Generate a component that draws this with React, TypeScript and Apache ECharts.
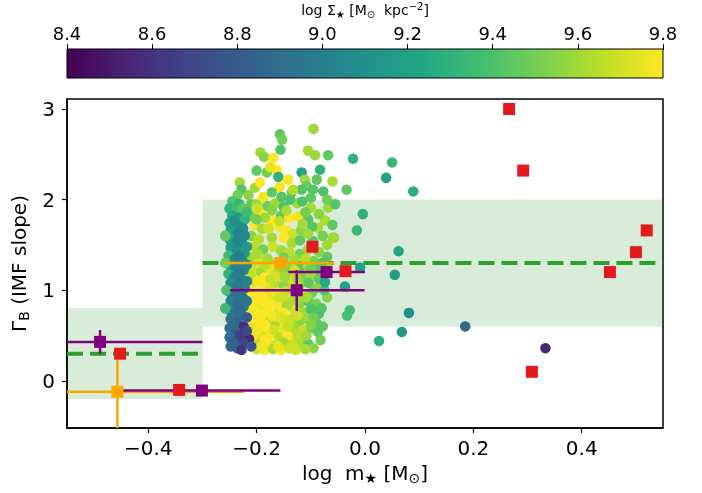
import React, { useEffect, useRef } from "react";
import * as echarts from "echarts";

// ---- Data ----
const cbTicks = [8.4, 8.6, 8.8, 9.0, 9.2, 9.4, 9.6, 9.8];
const xTicks = [-0.4, -0.2, 0.0, 0.2, 0.4];
const yTicks = [0, 1, 2, 3];

// cloud points: [log m, Gamma_B, log Sigma]
const cloudRight: number[][] = [
  [-0.135, 1.28, 9.6], [-0.12, 1.25, 9.45], [-0.105, 1.27, 9.62], [-0.09, 1.22, 9.4],
  [-0.132, 1.18, 9.66], [-0.116, 1.15, 9.52], [-0.1, 1.17, 9.6], [-0.085, 1.12, 9.45],
  [-0.135, 1.08, 9.7], [-0.12, 1.06, 9.6], [-0.104, 1.08, 9.45], [-0.09, 1.02, 9.55],
  [-0.13, 0.98, 9.62], [-0.114, 0.95, 9.7], [-0.098, 0.97, 9.5],
  [-0.135, 0.88, 9.65], [-0.12, 0.86, 9.55], [-0.105, 0.88, 9.42], [-0.09, 0.85, 9.5],
  [-0.13, 0.78, 9.7], [-0.115, 0.76, 9.6], [-0.1, 0.79, 9.45], [-0.085, 0.74, 9.4],
  [-0.135, 0.68, 9.66], [-0.12, 0.66, 9.55], [-0.105, 0.68, 9.6], [-0.09, 0.64, 9.45],
  [-0.13, 0.58, 9.6], [-0.114, 0.56, 9.68], [-0.098, 0.58, 9.5], [-0.078, 0.6, 9.45], [-0.087, 0.54, 9.45],
  [-0.135, 0.48, 9.7], [-0.12, 0.46, 9.62], [-0.105, 0.41, 9.45], [-0.12, 0.38, 9.62], [-0.135, 0.4, 9.7],
  [-0.098, 0.79, 9.4], [-0.07, 0.92, 9.55], [-0.075, 1.0, 9.4],
  [-0.125, 1.0, 9.66], [-0.108, 0.92, 9.62], [-0.125, 0.72, 9.7], [-0.095, 0.7, 9.5], [-0.125, 0.52, 9.65],
  [-0.108, 0.5, 9.6], [-0.1, 0.62, 9.55], [-0.08, 0.8, 9.42], [-0.082, 0.45, 9.5], [-0.095, 0.36, 9.55],
  [-0.11, 0.35, 9.62], [-0.128, 0.34, 9.7], [-0.125, 0.9, 9.6],
];
const cloudYellow: number[][] = [
  [-0.212, 1.08, 9.62], [-0.198, 1.1, 9.7], [-0.182, 1.06, 9.78], [-0.166, 1.08, 9.65], [-0.15, 1.05, 9.55],
  [-0.208, 1.0, 9.78], [-0.192, 0.98, 9.8], [-0.176, 1.0, 9.72], [-0.16, 0.97, 9.8], [-0.146, 0.99, 9.66],
  [-0.212, 0.92, 9.8], [-0.196, 0.9, 9.78], [-0.18, 0.91, 9.8], [-0.165, 0.89, 9.76], [-0.15, 0.9, 9.7],
  [-0.206, 0.83, 9.8], [-0.19, 0.82, 9.74], [-0.174, 0.84, 9.8], [-0.158, 0.81, 9.78], [-0.144, 0.83, 9.62],
  [-0.212, 0.75, 9.78], [-0.196, 0.74, 9.8], [-0.18, 0.76, 9.8], [-0.164, 0.73, 9.72], [-0.15, 0.75, 9.8],
  [-0.206, 0.67, 9.8], [-0.19, 0.66, 9.78], [-0.174, 0.68, 9.65], [-0.158, 0.65, 9.8], [-0.144, 0.67, 9.7],
  [-0.21, 0.58, 9.72], [-0.195, 0.59, 9.8], [-0.18, 0.57, 9.8], [-0.165, 0.6, 9.62], [-0.15, 0.58, 9.76],
  [-0.205, 0.5, 9.8], [-0.19, 0.49, 9.7], [-0.174, 0.51, 9.78], [-0.158, 0.48, 9.66], [-0.143, 0.5, 9.8],
  [-0.21, 0.42, 9.76], [-0.195, 0.41, 9.66], [-0.18, 0.43, 9.8], [-0.165, 0.4, 9.72], [-0.15, 0.42, 9.6],
  [-0.2, 0.35, 9.7], [-0.185, 0.34, 9.8], [-0.17, 0.35, 9.62], [-0.155, 0.34, 9.78], [-0.14, 0.36, 9.7],
  [-0.203, 0.95, 9.8], [-0.188, 0.87, 9.8], [-0.17, 0.95, 9.75], [-0.2, 0.7, 9.8], [-0.185, 0.62, 9.8],
  [-0.172, 0.72, 9.78], [-0.2, 0.54, 9.76], [-0.185, 0.45, 9.8], [-0.168, 0.56, 9.7], [-0.158, 0.92, 9.7],
  [-0.155, 0.7, 9.72], [-0.142, 0.6, 9.68], [-0.16, 0.38, 9.75], [-0.19, 0.38, 9.78],
];
const cloudMiddle: number[][] = [
  [-0.21, 1.95, 9.45], [-0.194, 1.87, 9.8], [-0.2, 1.95, 9.6], [-0.18, 1.93, 9.5], [-0.165, 1.96, 9.6],
  [-0.15, 1.92, 9.42], [-0.125, 1.96, 9.6], [-0.116, 1.98, 9.4], [-0.1, 1.91, 9.62], [-0.068, 1.91, 9.6], [-0.055, 1.95, 9.42],
  [-0.21, 1.82, 9.5], [-0.17, 1.76, 9.8], [-0.185, 1.8, 9.6], [-0.155, 1.82, 9.45], [-0.14, 1.8, 9.8],
  [-0.124, 1.81, 9.78], [-0.105, 1.78, 9.42], [-0.074, 1.77, 9.62], [-0.087, 1.69, 9.62], [-0.098, 1.7, 9.42],
  [-0.203, 1.72, 9.8], [-0.19, 1.68, 9.62], [-0.157, 1.7, 9.78], [-0.145, 1.66, 9.8], [-0.133, 1.62, 9.7], [-0.118, 1.66, 9.55],
  [-0.21, 1.6, 9.55], [-0.196, 1.56, 9.65], [-0.172, 1.58, 9.6], [-0.15, 1.58, 9.8], [-0.135, 1.52, 9.62],
  [-0.12, 1.55, 9.45], [-0.096, 1.54, 9.42], [-0.059, 1.58, 9.62], [-0.078, 1.6, 9.5],
  [-0.205, 1.48, 9.65], [-0.188, 1.45, 9.5], [-0.17, 1.48, 9.7], [-0.155, 1.44, 9.6], [-0.14, 1.42, 9.65],
  [-0.12, 1.4, 9.5], [-0.105, 1.45, 9.6], [-0.07, 1.37, 9.45], [-0.085, 1.42, 9.55],
  [-0.21, 1.36, 9.6], [-0.196, 1.32, 9.72], [-0.18, 1.35, 9.6], [-0.165, 1.3, 9.65], [-0.15, 1.36, 9.5],
  [-0.07, 1.26, 9.6], [-0.095, 1.32, 9.5],
  [-0.208, 1.24, 9.7], [-0.192, 1.2, 9.6], [-0.176, 1.24, 9.75], [-0.16, 1.2, 9.6], [-0.146, 1.24, 9.55],
  [-0.21, 1.15, 9.66], [-0.186, 1.14, 9.8], [-0.165, 1.15, 9.72], [-0.148, 1.14, 9.6],
  [-0.2, 1.9, 9.7], [-0.172, 1.88, 9.55], [-0.145, 1.88, 9.62], [-0.11, 1.86, 9.5], [-0.085, 1.84, 9.55],
  [-0.2, 1.78, 9.5], [-0.158, 1.76, 9.66], [-0.115, 1.73, 9.6], [-0.06, 1.72, 9.45], [-0.178, 1.68, 9.7],
  [-0.105, 1.62, 9.6], [-0.07, 1.5, 9.6], [-0.198, 1.4, 9.62], [-0.13, 1.34, 9.6], [-0.11, 1.35, 9.65],
  [-0.185, 1.28, 9.66], [-0.13, 1.22, 9.7], [-0.1, 1.24, 9.5], [-0.08, 1.3, 9.42], [-0.198, 1.1, 9.78],
  [-0.175, 1.12, 9.7], [-0.125, 1.12, 9.6],
];
const cloudUpper: number[][] = [
  [-0.095, 2.78, 9.6],
  [-0.157, 2.72, 9.45], [-0.153, 2.66, 9.5], [-0.156, 2.55, 9.42],
  [-0.105, 2.54, 9.6], [-0.092, 2.49, 9.58], [-0.068, 2.49, 9.45],
  [-0.193, 2.52, 9.6], [-0.186, 2.47, 9.55], [-0.169, 2.46, 9.8],
  [-0.022, 2.45, 9.3],
  [-0.2, 2.32, 9.45], [-0.181, 2.3, 9.5], [-0.163, 2.33, 9.8], [-0.175, 2.36, 9.75],
  [-0.16, 2.25, 9.3], [-0.142, 2.22, 9.78], [-0.117, 2.3, 9.22], [-0.083, 2.33, 9.3],
  [-0.111, 2.22, 9.6], [-0.108, 2.15, 9.48], [-0.089, 2.22, 9.45], [-0.06, 2.2, 9.62],
  [-0.231, 2.19, 9.6], [-0.228, 2.11, 9.42], [-0.203, 2.13, 9.6], [-0.194, 2.19, 9.8],
  [-0.157, 2.14, 9.78], [-0.188, 2.03, 9.78], [-0.172, 2.08, 9.45], [-0.135, 2.08, 9.45],
  [-0.154, 2.03, 9.42], [-0.117, 2.11, 9.42], [-0.077, 2.09, 9.4], [-0.034, 2.11, 9.45],
  [-0.138, 2.0, 9.4], [-0.133, 2.11, 9.65], [-0.096, 2.11, 9.42], [-0.235, 2.05, 9.5],
  [-0.215, 2.05, 9.55], [-0.1, 2.02, 9.45], [-0.07, 2.0, 9.5],
];
const cloudColumn: number[][] = [
  [-0.245, 1.98, 9.4], [-0.232, 1.95, 9.32], [-0.25, 1.9, 9.3], [-0.238, 1.88, 9.38], [-0.225, 1.9, 9.45],
  [-0.245, 1.82, 9.25], [-0.232, 1.8, 9.18], [-0.222, 1.78, 9.3], [-0.25, 1.74, 9.22], [-0.236, 1.72, 9.1],
  [-0.225, 1.68, 9.08], [-0.248, 1.66, 9.18], [-0.235, 1.62, 9.02],
  [-0.222, 1.6, 9.04], [-0.25, 1.56, 9.25], [-0.238, 1.54, 9.05], [-0.226, 1.5, 9.02], [-0.248, 1.47, 9.16],
  [-0.236, 1.44, 9.1], [-0.222, 1.41, 9.18], [-0.252, 1.38, 9.35], [-0.24, 1.35, 9.05], [-0.226, 1.32, 9.1],
  [-0.25, 1.28, 9.15], [-0.238, 1.25, 9.02], [-0.224, 1.22, 9.04], [-0.252, 1.18, 9.3], [-0.24, 1.15, 9.0],
  [-0.228, 1.12, 8.96], [-0.248, 1.08, 9.1], [-0.236, 1.05, 8.98], [-0.222, 1.02, 9.0],
  [-0.25, 0.98, 9.05], [-0.238, 0.95, 8.95], [-0.226, 0.92, 8.93], [-0.248, 0.88, 9.0], [-0.236, 0.85, 8.9],
  [-0.224, 0.82, 8.96], [-0.25, 0.78, 9.02], [-0.238, 0.75, 8.9], [-0.226, 0.72, 8.92],
  [-0.248, 0.68, 8.94], [-0.236, 0.65, 8.84], [-0.224, 0.6, 8.6], [-0.25, 0.58, 8.9], [-0.238, 0.55, 8.77],
  [-0.214, 0.46, 8.55], [-0.25, 0.48, 8.92], [-0.236, 0.45, 8.8], [-0.224, 0.42, 8.7], [-0.248, 0.38, 8.87],
  [-0.236, 0.36, 8.82], [-0.228, 0.34, 8.6], [-0.21, 0.38, 8.75],
  [-0.218, 1.86, 9.35], [-0.242, 1.76, 9.1], [-0.228, 1.56, 9.04], [-0.218, 1.48, 9.15], [-0.232, 1.38, 9.0],
  [-0.218, 1.28, 9.05], [-0.232, 1.18, 8.98], [-0.218, 1.1, 9.02], [-0.232, 0.98, 8.94], [-0.218, 0.88, 8.94],
  [-0.232, 0.8, 8.9], [-0.218, 0.7, 8.82], [-0.23, 0.5, 8.65], [-0.218, 0.55, 8.7], [-0.242, 0.62, 8.88],
  [-0.245, 0.42, 8.84],
  [-0.258, 1.6, 9.45], [-0.258, 1.3, 9.5], [-0.256, 1.0, 9.4], [-0.258, 0.8, 9.35],
];
const cloudOutliers: number[][] = [
  [0.05, 2.41, 9.33], [0.039, 2.24, 9.2], [0.089, 2.09, 9.28], [-0.004, 1.84, 9.28],
  [0.062, 1.43, 9.22], [0.055, 1.17, 9.18], [0.081, 0.75, 9.1], [0.068, 0.54, 9.15],
  [0.026, 0.44, 9.28], [0.185, 0.6, 8.86], [0.333, 0.36, 8.55], [-0.015, 1.66, 9.33],
  [-0.057, 1.58, 9.6], [-0.037, 1.04, 9.2], [-0.028, 0.78, 9.38], [-0.033, 0.72, 9.38],
  [-0.009, 1.25, 9.2], [-0.074, 1.09, 9.25],
];

// red squares: [log m, Gamma_B]
const redPoints: number[][] = [
  [0.266, 3.0], [0.292, 2.32], [0.52, 1.66], [0.5, 1.42], [0.452, 1.2], [0.308, 0.1],
  [-0.097, 1.48], [-0.036, 1.21], [-0.452, 0.3], [-0.343, -0.1],
];
// with error bars: [x, y, xlo, xhi, ylo, yhi]
const orangePoints: number[][] = [
  [-0.156, 1.3, -0.255, -0.057, 1.3, 1.3],
  [-0.457, -0.12, -0.62, -0.223, -0.7, 0.3],
];
const purplePoints: number[][] = [
  [-0.489, 0.43, -0.62, -0.3, 0.3, 0.56],
  [-0.301, -0.107, -0.446, -0.156, -0.107, -0.107],
  [-0.126, 1.0, -0.249, -0.001, 0.77, 1.22],
  [-0.071, 1.2, -0.1415, 0.0, 1.2, 1.2],
];
// IMF slope regimes
const bandLow = { x: [-0.55, -0.3], y: [-0.2, 0.8], mean: 0.3 };
const bandHigh = { x: [-0.3, 0.55], y: [0.6, 2.0], mean: 1.3 };

const viridis = ["#440154", "#482475", "#414487", "#355f8d", "#2a788e", "#21918c", "#22a884", "#44bf70", "#7ad151", "#bddf26", "#fde725"];

const fmt = (v: number) => {
  const s = Math.abs(v).toFixed(1);
  return v < -1e-9 ? "\u2212" + s : s;
};

const errorRender = (color: string) => (params: any, api: any) => {
  const x = api.value(0), y = api.value(1);
  const pl = api.coord([api.value(2), y]);
  const pr = api.coord([api.value(3), y]);
  const pb = api.coord([x, api.value(4)]);
  const pt = api.coord([x, api.value(5)]);
  const style = { stroke: color, lineWidth: 2.5 };
  return {
    type: "group",
    children: [
      { type: "line", shape: { x1: pl[0], y1: pl[1], x2: pr[0], y2: pr[1] }, style },
      { type: "line", shape: { x1: pb[0], y1: pb[1], x2: pt[0], y2: pt[1] }, style },
    ],
  };
};

const labelRich = (main: number, sub: number) => ({
  n: { fontSize: main, lineHeight: main + 4, color: "#000" },
  s: { fontSize: sub, lineHeight: sub, verticalAlign: "bottom", color: "#000" },
  p: { fontSize: sub, lineHeight: sub, verticalAlign: "top", color: "#000" },
});

export default function App() {
  const ref = useRef<HTMLDivElement>(null);
  useEffect(() => {
    if (!ref.current) return;
    const chart = echarts.init(ref.current, null, { renderer: "svg" });
    const cloud = [...cloudRight, ...cloudYellow, ...cloudMiddle, ...cloudUpper, ...cloudColumn, ...cloudOutliers];
    const stops = viridis.map((c, i) => ({ offset: i / (viridis.length - 1), color: c }));
    const L = 67, W = 596;
    chart.setOption({
      animation: false,
      textStyle: { fontFamily: "DejaVu Sans", color: "#000" },
      grid: [
        { left: L, top: 99, width: W, height: 329, show: true, borderColor: "#000", borderWidth: 1.5, backgroundColor: "#fff", z: 0 },
        { left: L, top: 49, width: W, height: 29 },
      ],
      xAxis: [
        {
          type: "value", gridIndex: 0, min: -0.55, max: 0.55,
          splitLine: { show: false },
          axisLine: { show: true, onZero: false, lineStyle: { color: "#000", width: 1.5 } },
          axisTick: { show: true, length: 5, lineStyle: { color: "#000", width: 1.2 }, customValues: xTicks },
          axisLabel: { fontSize: 20, color: "#000", margin: 10, customValues: xTicks, formatter: fmt },
          name: "{n|log  m}{s|\u2605}{n| [M}{s|\u2299}{n|]}",
          nameLocation: "middle", nameGap: 32,
          nameTextStyle: { fontSize: 20, color: "#000", rich: labelRich(20, 14) },
        },
        {
          type: "value", gridIndex: 1, min: 8.4, max: 9.8, position: "top",
          splitLine: { show: false },
          axisLine: { show: false, onZero: false },
          axisTick: { show: true, length: 6, lineStyle: { color: "#000", width: 1 }, customValues: cbTicks },
          axisLabel: { fontSize: 18, color: "#000", margin: 8, customValues: cbTicks, formatter: (v: number) => v.toFixed(1) },
          name: "{n|log \u03A3}{s|\u2605}{n| [M}{s|\u2299}{n|  kpc}{p|\u22122}{n|]}",
          nameLocation: "middle", nameGap: 31,
          nameTextStyle: { fontSize: 14, color: "#000", rich: labelRich(14, 10) },
        },
      ],
      yAxis: [
        {
          type: "value", gridIndex: 0, min: -0.52, max: 3.11,
          splitLine: { show: false },
          axisLine: { show: true, onZero: false, lineStyle: { color: "#000", width: 1.5 } },
          axisTick: { show: true, length: 5, lineStyle: { color: "#000", width: 1.2 }, customValues: yTicks },
          axisLabel: { fontSize: 20, color: "#000", margin: 12, customValues: yTicks, formatter: (v: number) => String(v) },
          name: "{n|\u0393}{s|B}{n| (IMF slope)}",
          nameLocation: "middle", nameGap: 30, nameRotate: 90,
          nameTextStyle: { fontSize: 20, color: "#000", rich: labelRich(20, 14) },
        },
        { type: "value", gridIndex: 1, min: 0, max: 1, show: false },
      ],
      visualMap: {
        show: false, type: "continuous", min: 8.4, max: 9.8, dimension: 2, seriesIndex: 3,
        inRange: { color: viridis },
      },
      graphic: [
        {
          type: "rect", z: 10,
          shape: { x: L, y: 49, width: W, height: 29 },
          style: { fill: new echarts.graphic.LinearGradient(0, 0, 1, 0, stops), stroke: "#000", lineWidth: 1 },
        },
      ],
      series: [
        {
          type: "line", xAxisIndex: 0, yAxisIndex: 0, data: [], z: 1, silent: true,
          markArea: {
            silent: true,
            itemStyle: { color: "rgba(0,128,0,0.15)" },
            data: [
              [{ xAxis: bandLow.x[0], yAxis: bandLow.y[0] }, { xAxis: bandLow.x[1], yAxis: bandLow.y[1] }],
              [{ xAxis: bandHigh.x[0], yAxis: bandHigh.y[0] }, { xAxis: bandHigh.x[1], yAxis: bandHigh.y[1] }],
            ],
          },
        },
        {
          type: "line", xAxisIndex: 0, yAxisIndex: 0, z: 2, silent: true, symbol: "none",
          data: [[bandLow.x[0], bandLow.mean], [bandLow.x[1], bandLow.mean]],
          lineStyle: { color: "#2ca02c", width: 4, type: [16, 7] },
        },
        {
          type: "line", xAxisIndex: 0, yAxisIndex: 0, z: 2, silent: true, symbol: "none",
          data: [[bandHigh.x[0], bandHigh.mean], [bandHigh.x[1], bandHigh.mean]],
          lineStyle: { color: "#2ca02c", width: 4, type: [16, 7] },
        },
        {
          type: "scatter", xAxisIndex: 0, yAxisIndex: 0, z: 3, symbol: "circle", symbolSize: 10.5,
          data: cloud, itemStyle: { opacity: 1 },
        },
        {
          type: "custom", xAxisIndex: 0, yAxisIndex: 0, z: 4, clip: true,
          renderItem: errorRender("#ffa500"), data: orangePoints, encode: { x: 0, y: 1 },
        },
        {
          type: "scatter", xAxisIndex: 0, yAxisIndex: 0, z: 4, symbol: "rect", symbolSize: 12,
          data: orangePoints.map((p) => [p[0], p[1]]), itemStyle: { color: "#ffa500", opacity: 1 },
        },
        {
          type: "custom", xAxisIndex: 0, yAxisIndex: 0, z: 5, clip: true,
          renderItem: errorRender("#800080"), data: purplePoints, encode: { x: 0, y: 1 },
        },
        {
          type: "scatter", xAxisIndex: 0, yAxisIndex: 0, z: 5, symbol: "rect", symbolSize: 12,
          data: purplePoints.map((p) => [p[0], p[1]]), itemStyle: { color: "#800080", opacity: 1 },
        },
        {
          type: "scatter", xAxisIndex: 0, yAxisIndex: 0, z: 6, symbol: "rect", symbolSize: 12,
          data: redPoints, itemStyle: { color: "#e41a1c", opacity: 1 },
        },
        { type: "scatter", xAxisIndex: 1, yAxisIndex: 1, data: [] },
      ],
    });
    return () => chart.dispose();
  }, []);
  return <div ref={ref} style={{ position: "fixed", left: 0, top: 0, width: 702, height: 493 }} />;
}
